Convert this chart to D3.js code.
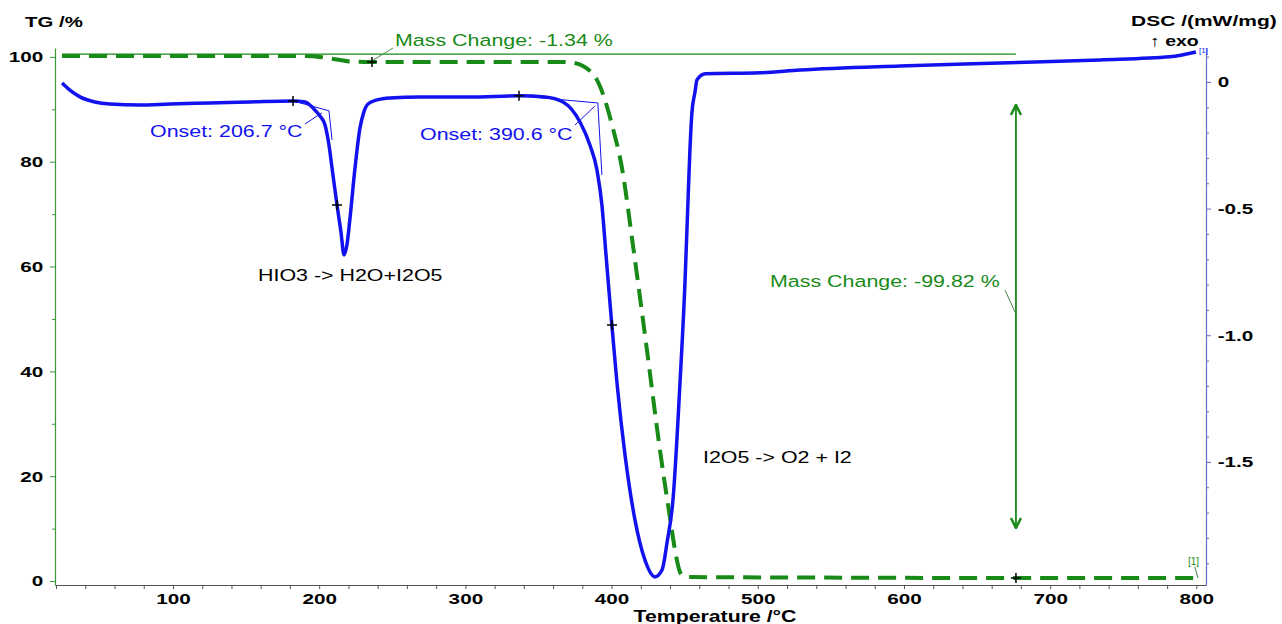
<!DOCTYPE html>
<html>
<head>
<meta charset="utf-8">
<script src="https://cdn.jsdelivr.net/npm/d3@7"></script>
<style>
  body { margin: 0; background: #fff; }
  svg { display: block; }
</style>
</head>
<body>
<div id="chart"></div>
<script>
(function() {
    'use strict';

    // DSC curve (temperature in °C, signal in mW/mg)
    const dscTemp = [24.1, 29.5, 36.4, 46.6, 56.9, 77.4, 97.9, 125.3, 152.7, 182.1, 190.3, 195.8, 200.5, 204.0, 206.7, 208.8, 212.2, 214.9, 217.0, 219.0, 221.1, 224.5, 227.9, 230.6, 233.4, 239.5, 248.4, 268.9, 303.1, 336.7, 354.4, 366.8, 378.4, 385.2, 390.0, 393.4, 396.2, 399.6, 403.7, 409.2, 416.0, 422.8, 429.7, 434.5, 437.9, 442.0, 446.8, 450.2, 452.3, 453.6, 455.0, 457.1, 458.4, 464.1, 501.5, 528.9, 597.3, 665.7, 734.1, 781.9, 799.7];
    const dscValue = [-0.004, -0.032, -0.059, -0.079, -0.087, -0.091, -0.087, -0.083, -0.079, -0.075, -0.079, -0.103, -0.134, -0.170, -0.249, -0.340, -0.486, -0.592, -0.683, -0.643, -0.537, -0.340, -0.182, -0.118, -0.087, -0.071, -0.063, -0.059, -0.059, -0.055, -0.059, -0.079, -0.158, -0.249, -0.347, -0.486, -0.683, -0.920, -1.188, -1.473, -1.729, -1.887, -1.954, -1.927, -1.820, -1.650, -1.188, -0.794, -0.466, -0.268, -0.118, -0.039, 0.008, 0.032, 0.036, 0.047, 0.063, 0.075, 0.087, 0.099, 0.118];

    // TG curve (temperature in °C, mass in %)
    const tgTemp = [24.1, 118.5, 186.9, 200.5, 207.4, 214.2, 221.1, 236.1, 289.5, 364.7, 371.5, 380.4, 385.2, 390.0, 394.8, 400.3, 407.1, 414.6, 424.2, 433.1, 439.9, 444.0, 446.8, 449.5, 453.6, 528.9, 676.6, 799.7];
    const tgValue = [100.19, 100.19, 100.19, 100.0, 99.71, 99.43, 99.14, 99.05, 99.05, 99.05, 98.95, 98.28, 97.33, 95.61, 92.37, 87.02, 78.82, 64.12, 44.08, 25.0, 12.21, 4.96, 1.72, 0.95, 0.76, 0.67, 0.57, 0.57];

    // ticks
    const tempTicks = [100, 200, 300, 400, 500, 600, 700, 800];
    const tgTicks = [0, 20, 40, 60, 80, 100];
    const dscTicks = [0, -0.5, -1.0, -1.5];

    // evaluation marks: [temperature, value]
    const dscMarks = [[182.1, -0.075], [212.2, -0.486], [336.7, -0.055], [400.3, -0.96]];
    const tgMarks = [[236.1, 99.05], [676.6, 0.57]];
    const onset1 = [[182.1, -0.075], [206.7, -0.114], [208.8, -0.229]];
    const onset2 = [[336.7, -0.055], [390.6, -0.083], [393.4, -0.367]];
    const onset1Leader = [[190.3, -0.166], [201.9, -0.122]];
    const onset2Leader = [[375.0, -0.170], [388.6, -0.095]];
    const massLine = [[24.1, 100.52], [676.6, 100.52]];
    const massLeader1 = [[250.5, 101.7], [236.1, 99.24]];
    const massArrow = [[676.6, 90.84], [676.6, 10.11]];
    const massLeader2 = [[669.1, 55.53], [675.9, 51.34]];
    const tagLeader = [[799.0, 2.67], [801.1, 0.57]];

    const width = 1282;
    const height = 624;
    const left = 55, right = 1206, top = 48, bottom = 585;

    const blue = "#1212ee";
    const green = "#178a17";
    const font = "'Liberation Sans', Arial, sans-serif";

    const svg = d3.select("#chart")
        .append("svg")
        .attr("width", width)
        .attr("height", height);

    const x = d3.scaleLinear().domain([19.3, 806.6]).range([left, right]);
    const yTG = d3.scaleLinear().domain([-0.76, 101.7]).range([bottom, top]);
    const yDSC = d3.scaleLinear().domain([-1.986, 0.134]).range([bottom, top]);

    // arrow heads for the mass change span
    svg.append("defs").append("marker")
        .attr("id", "arr")
        .attr("viewBox", "0 0 10 10")
        .attr("refX", 9).attr("refY", 5)
        .attr("markerWidth", 7).attr("markerHeight", 7)
        .attr("orient", "auto-start-reverse")
        .append("path")
        .attr("d", "M1,1 L9,5 L1,9")
        .attr("fill", "none")
        .attr("stroke", green)
        .attr("stroke-width", 2);

    function addText(g, px, py, str, size, weight, fill, sx, anchor) {
        g.append("text")
            .attr("transform", `translate(${px},${py}) scale(${sx},1)`)
            .attr("text-anchor", anchor || "start")
            .style("font-family", font)
            .style("font-size", size + "px")
            .style("font-weight", weight)
            .attr("fill", fill)
            .text(str);
    }

    function styleAxis(g, color, sx) {
        g.select(".domain").attr("stroke", color).attr("stroke-width", 1.2);
        g.selectAll(".tick line").attr("stroke", color);
        g.selectAll(".tick text")
            .attr("fill", "#000")
            .style("font-family", font)
            .style("font-weight", "bold");
        if (sx) g.selectAll(".tick text").attr("transform", `scale(${sx},1)`);
    }

    // bottom axis
    const gx = svg.append("g").attr("transform", `translate(0,${bottom})`)
        .call(d3.axisBottom(x).tickValues(tempTicks).tickSize(4).tickSizeOuter(0).tickPadding(4).tickFormat(d3.format("d")));
    gx.selectAll(".tick text").style("font-size", "15px");
    styleAxis(gx, "#555", 1.38);
    svg.append("g").attr("transform", `translate(0,${bottom})`)
        .call(d3.axisBottom(x).tickValues(d3.range(20, 801, 20).filter(t => t % 100)).tickSize(4).tickFormat(""))
        .call(g => g.select(".domain").remove())
        .selectAll("line").attr("stroke", "#555");

    // left TG axis
    const gl = svg.append("g").attr("transform", `translate(${left},0)`)
        .call(d3.axisLeft(yTG).tickValues(tgTicks).tickSize(5).tickSizeOuter(0).tickPadding(3.5).tickFormat(d3.format("d")));
    gl.selectAll(".tick text").style("font-size", "15px");
    styleAxis(gl, "#3a9a3a", 1.38);
    svg.append("g").attr("transform", `translate(${left},0)`)
        .call(d3.axisLeft(yTG).tickValues([10, 30, 50, 70, 90]).tickSize(3).tickFormat(""))
        .call(g => g.select(".domain").remove())
        .selectAll("line").attr("stroke", "#3a9a3a");

    // right DSC axis
    const gr = svg.append("g").attr("transform", `translate(${right},0)`)
        .call(d3.axisRight(yDSC).tickValues(dscTicks).tickSize(5).tickSizeOuter(0).tickPadding(3.5)
            .tickFormat(d => d === 0 ? "0" : d.toFixed(1)));
    gr.selectAll(".tick text").style("font-size", "15px");
    styleAxis(gr, "#6a6ac8", 1.38);
    svg.append("g").attr("transform", `translate(${right},0)`)
        .call(d3.axisRight(yDSC).tickValues(d3.range(-19, 2).filter(i => i % 5).map(i => i / 10)).tickSize(3).tickFormat(""))
        .call(g => g.select(".domain").remove())
        .selectAll("line").attr("stroke", "#6a6ac8");

    const lineTG = d3.line().x(d => x(d[0])).y(d => yTG(d[1]));
    const lineDSC = d3.line().x(d => x(d[0])).y(d => yDSC(d[1]));

    // thin helper lines
    svg.append("path").attr("d", lineTG(massLine))
        .attr("fill", "none").attr("stroke", green).attr("stroke-width", 1.2);
    svg.append("path").attr("d", lineTG(massArrow))
        .attr("fill", "none").attr("stroke", green).attr("stroke-width", 1.8)
        .attr("marker-start", "url(#arr)").attr("marker-end", "url(#arr)");
    [massLeader1, massLeader2, tagLeader].forEach(seg => {
        svg.append("path").attr("d", lineTG(seg))
            .attr("fill", "none").attr("stroke", "#4a8a4a").attr("stroke-width", 1);
    });
    [onset1, onset2, onset1Leader, onset2Leader].forEach(seg => {
        svg.append("path").attr("d", lineDSC(seg))
            .attr("fill", "none").attr("stroke", blue).attr("stroke-width", 1);
    });

    // TG curve (dashed)
    svg.append("path")
        .datum(d3.zip(tgTemp, tgValue))
        .attr("d", lineTG.curve(d3.curveMonotoneX))
        .attr("fill", "none")
        .attr("stroke", green)
        .attr("stroke-width", 4)
        .attr("stroke-dasharray", "18,9");

    // DSC curve
    svg.append("path")
        .datum(d3.zip(dscTemp, dscValue))
        .attr("d", lineDSC.curve(d3.curveMonotoneX))
        .attr("fill", "none")
        .attr("stroke", blue)
        .attr("stroke-width", 3.5)
        .attr("stroke-linejoin", "round");

    // + marks
    const cross = (px, py) => `M${px - 5},${py} H${px + 5} M${px},${py - 5} V${py + 5}`;
    dscMarks.forEach(d => {
        svg.append("path").attr("d", cross(x(d[0]), yDSC(d[1]))).attr("stroke", "#000").attr("stroke-width", 1.5);
    });
    tgMarks.forEach(d => {
        svg.append("path").attr("d", cross(x(d[0]), yTG(d[1]))).attr("stroke", "#000").attr("stroke-width", 1.5);
    });

    // labels
    addText(svg, 25, 27, "TG /%", 15, "bold", "#000", 1.36);
    addText(svg, 1131, 26, "DSC /(mW/mg)", 15, "bold", "#000", 1.4);
    addText(svg, 1150, 46, "\u2191 exo", 15, "bold", "#000", 1.3);
    addText(svg, 715, 622, "Temperature /°C", 16, "bold", "#000", 1.33, "middle");

    addText(svg, 395, 46, "Mass Change: -1.34 %", 17, "normal", green, 1.26);
    addText(svg, 770, 287, "Mass Change: -99.82 %", 17, "normal", green, 1.26);
    addText(svg, 150, 137, "Onset: 206.7 °C", 17, "normal", blue, 1.26);
    addText(svg, 420, 140, "Onset: 390.6 °C", 17, "normal", blue, 1.26);
    addText(svg, 258, 281, "HIO3 -> H2O+I2O5", 17, "normal", "#000", 1.26);
    addText(svg, 703, 463, "I2O5 -> O2 + I2", 17, "normal", "#000", 1.26);

    addText(svg, 1199, 53, "[1]", 8, "normal", blue, 1);
    addText(svg, 1188, 565, "[1]", 10, "normal", green, 1);

})();
</script>
</body>
</html>
